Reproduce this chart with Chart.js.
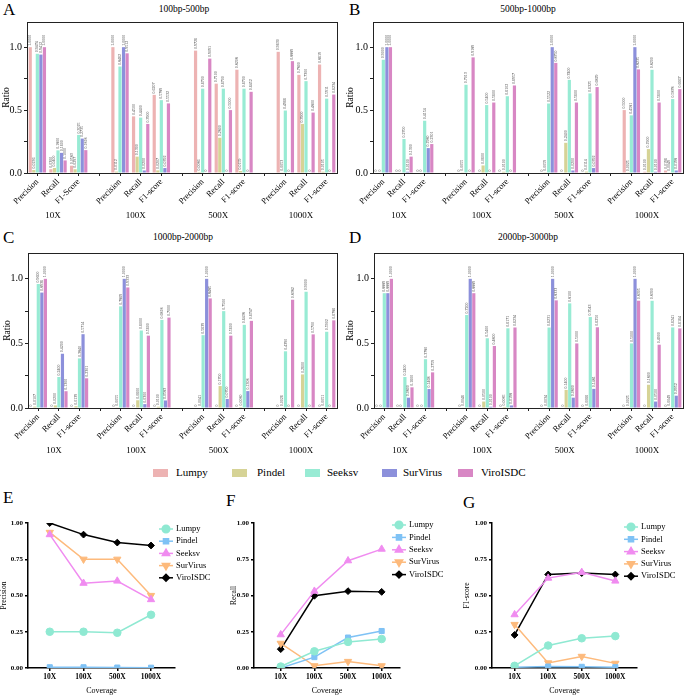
<!DOCTYPE html>
<html>
<head>
<meta charset="utf-8">
<script src="https://cdn.jsdelivr.net/npm/chart.js@4.4.0/dist/chart.umd.min.js"></script>
<style>
body { margin: 0; background: #fff; width: 685px; height: 696px; position: relative; overflow: hidden; }
canvas { position: absolute; }
.t { position: absolute; font-family: "Liberation Serif", "DejaVu Serif", "Times New Roman", serif; color: #000; white-space: nowrap; line-height: 1; }
.letter { font-size: 17px; }
.title { font-size: 9.5px; transform: translateX(-50%); }
.sw { position: absolute; width: 15px; height: 8px; }
.lg { font-size: 11px; }
</style>
</head>
<body>
<div class="t letter" style="left:3px;top:1px">A</div>
<div class="t letter" style="left:349px;top:1px">B</div>
<div class="t letter" style="left:3px;top:229px">C</div>
<div class="t letter" style="left:349px;top:229px">D</div>
<div class="t letter" style="left:3px;top:489px">E</div>
<div class="t letter" style="left:226px;top:492px">F</div>
<div class="t letter" style="left:463px;top:494px">G</div>

<div class="t title" style="left:184px;top:5px">100bp-500bp</div>
<div class="t title" style="left:528px;top:5px">500bp-1000bp</div>
<div class="t title" style="left:183px;top:233px">1000bp-2000bp</div>
<div class="t title" style="left:528px;top:233px">2000bp-3000bp</div>

<canvas id="chartA" width="342" height="212" style="left:0;top:14px"></canvas>
<canvas id="chartB" width="343" height="212" style="left:342px;top:14px"></canvas>
<canvas id="chartC" width="342" height="222" style="left:0;top:240px"></canvas>
<canvas id="chartD" width="343" height="222" style="left:342px;top:240px"></canvas>

<div id="legend"></div>

<canvas id="chartE" width="228" height="191" style="left:0;top:505px"></canvas>
<canvas id="chartF" width="228" height="191" style="left:228px;top:505px"></canvas>
<canvas id="chartG" width="229" height="191" style="left:456px;top:505px"></canvas>

<script>
const tools = ['Lumpy', 'Pindel', 'Seeksv', 'SurVirus', 'ViroISDC'];
const coverages = ['10X', '100X', '500X', '1000X'];
const metrics = ['Precision', 'Recall', 'F1-score'];
const metricsA10 = ['Precision', 'Recall', 'F1-Score'];

// bar panels: per tool, 12 values = (P, R, F1) x 10X, 100X, 500X, 1000X
const A_Lumpy    = [1.0000, 0.0300, 0.0583, 1.0000, 0.4500, 0.6207, 0.9726, 0.7100, 0.8208, 0.9630, 0.7800, 0.8619];
const A_Pindel   = [0.0236, 0.0400, 0.0297, 0.0112, 0.1300, 0.0207, 0.0086, 0.2800, 0.0159, 0.0053, 0.3900, 0.0105];
const A_Seeksv   = [0.9474, 0.1800, 0.3025, 0.8462, 0.4400, 0.5789, 0.6700, 0.6700, 0.6700, 0.4966, 0.7300, 0.5911];
const A_SurVirus = [0.9412, 0.1600, 0.2735, 1.0000, 0.0200, 0.0392, 0, 0, 0, 0, 0, 0];
const A_ViroISDC = [1.0000, 0.1000, 0.1818, 0.9512, 0.3900, 0.5532, 0.9091, 0.5000, 0.6452, 0.8889, 0.4800, 0.6234];

const B_Lumpy    = [0, 0, 0, 0, 0, 0, 0, 0, 0, 0.5000, 0.0100, 0.0196];
const B_Pindel   = [0, 0, 0, 0.0055, 0.0600, 0.0100, 0.0059, 0.2400, 0.0114, 0.0025, 0.1900, 0.0049];
const B_Seeksv   = [0.9000, 0.2700, 0.4154, 0.7013, 0.5400, 0.6102, 0.5522, 0.7400, 0.6325, 0.4581, 0.8200, 0.5878];
const B_SurVirus = [1.0000, 0.0100, 0.1980, 0, 0, 0, 1.0000, 0.0200, 0.0392, 1.0000, 0.0100, 0.0198];
const B_ViroISDC = [1.0000, 0.1300, 0.2301, 0.9189, 0.5600, 0.6957, 0.8750, 0.5600, 0.6829, 0.8235, 0.5600, 0.6667];

const C_Lumpy    = [0, 0, 0, 0, 0, 0, 0, 0, 0, 0, 0, 0];
const C_Pindel   = [0.0107, 0.0200, 0.0139, 0.0055, 0.0600, 0.0100, 0.0041, 0.1700, 0.0080, 0.0026, 0.2600, 0.0051];
const C_Seeksv   = [0.9600, 0.2400, 0.3840, 0.7869, 0.6000, 0.6818, 0.5639, 0.7500, 0.6438, 0.4390, 0.9000, 0.5902];
const C_SurVirus = [0.8936, 0.4200, 0.5714, 1.0000, 0.0300, 0.0583, 1.0000, 0.0700, 0.1308, 0, 0, 0];
const C_ViroISDC = [1.0000, 0.1300, 0.2301, 0.9333, 0.5600, 0.7000, 0.8485, 0.5600, 0.6747, 0.8382, 0.5700, 0.6786];

const D_Lumpy    = [0, 0, 0, 0, 0, 0, 0, 0, 0, 0, 0, 0];
const D_Pindel   = [0, 0, 0, 0.0046, 0.0500, 0.0085, 0.0034, 0.1400, 0.0066, 0.0025, 0.1800, 0.0049];
const D_Seeksv   = [0.8889, 0.2400, 0.3780, 0.7200, 0.5400, 0.6171, 0.6231, 0.8100, 0.7043, 0.5000, 0.8300, 0.6241];
const D_SurVirus = [0.8889, 0.0800, 0.1468, 1.0000, 0.0100, 0.0198, 1.0000, 0.0800, 0.1481, 1.0000, 0.0500, 0.0952];
const D_ViroISDC = [1.0000, 0.1600, 0.2759, 0.8889, 0.4800, 0.6234, 0.8333, 0.5000, 0.6250, 0.8305, 0.4900, 0.6164];

// line panels: per tool, values at 10X, 100X, 500X, 1000X
const precLumpy = [0.250, 0.250, 0.243, 0.367];
const precPindel = [0.005, 0.005, 0.003, 0.002];
const precSeeksv = [0.920, 0.585, 0.600, 0.472];
const precSurVirus = [0.935, 0.750, 0.750, 0.500];
const precViroISDC = [1.000, 0.920, 0.865, 0.845];

const recLumpy = [0.010, 0.115, 0.180, 0.200];
const recPindel = [0.000, 0.075, 0.210, 0.255];
const recSeeksv = [0.230, 0.530, 0.740, 0.820];
const recSurVirus = [0.170, 0.015, 0.045, 0.015];
const recViroISDC = [0.130, 0.498, 0.530, 0.525];

const f1Lumpy = [0.015, 0.155, 0.205, 0.220];
const f1Pindel = [0.005, 0.010, 0.008, 0.006];
const f1Seeksv = [0.368, 0.620, 0.660, 0.600];
const f1SurVirus = [0.300, 0.035, 0.080, 0.032];
const f1ViroISDC = [0.228, 0.645, 0.655, 0.645];

const SERIF = '"Liberation Serif", "DejaVu Serif", "Times New Roman", serif';
const barColors = ['#EDB3B3', '#D6D396', '#98EBD4', '#8C90DB', '#D887C4'];
const lineColors = ['#8FE9D2', '#7FC2F5', '#F08CF0', '#FDBA7C', '#000000'];
const pointStyles = ['circle', 'rect', 'triangle', 'triangle', 'rectRot'];
const pointRot = [0, 0, 0, 180, 0];
const pointRad = [3.8, 3.6, 4.2, 4.2, 3.4];

// legend for the bar panels
const legendDiv = document.getElementById('legend');
const swX = [153, 232, 305, 382, 458];
const txtX = [176, 257, 327, 403, 481];
tools.forEach((t, i) => {
  const sw = document.createElement('div');
  sw.className = 'sw';
  sw.style.left = swX[i] + 'px';
  sw.style.top = '469px';
  sw.style.background = barColors[i];
  legendDiv.appendChild(sw);
  const lb = document.createElement('div');
  lb.className = 't lg';
  lb.style.left = txtX[i] + 'px';
  lb.style.top = '467px';
  lb.textContent = t;
  legendDiv.appendChild(lb);
});

function spread(vals) {
  // 12 values -> 15 slots, empty slot between coverage groups
  const out = [];
  vals.forEach((v, i) => {
    out.push(v);
    if (i % 3 === 2 && i < vals.length - 1) out.push(null);
  });
  return out;
}

function barLabels(firstGroup) {
  const out = [];
  coverages.forEach((c, g) => {
    (g === 0 ? firstGroup : metrics).forEach(m => out.push(m));
    if (g < coverages.length - 1) out.push('');
  });
  return out;
}

const frame = {
  id: 'frame',
  afterDraw(chart) {
    const a = chart.chartArea, ctx = chart.ctx;
    ctx.save();
    ctx.strokeStyle = '#222';
    ctx.lineWidth = 1;
    ctx.strokeRect(Math.round(a.left) + 0.5, Math.round(a.top) + 0.5, Math.round(a.right - a.left), Math.round(a.bottom - a.top));
    ctx.restore();
  }
};

const valueLabels = {
  id: 'valueLabels',
  afterDatasetsDraw(chart) {
    const ctx = chart.ctx;
    ctx.save();
    ctx.font = '4px ' + SERIF;
    ctx.fillStyle = '#444';
    ctx.textAlign = 'left';
    ctx.textBaseline = 'middle';
    chart.data.datasets.forEach((ds, di) => {
      chart.getDatasetMeta(di).data.forEach((el, i) => {
        const v = ds.data[i];
        if (v === null || v === undefined) return;
        ctx.save();
        ctx.translate(el.x, el.y - 1.5);
        ctx.rotate(-Math.PI / 2);
        ctx.fillText(v === 0 ? '0' : v.toFixed(4), 0, 0);
        ctx.restore();
      });
    });
    ctx.restore();
  }
};

const groupLabels = {
  id: 'groupLabels',
  afterDraw(chart) {
    const ctx = chart.ctx, x = chart.scales.x;
    ctx.save();
    ctx.font = '9px ' + SERIF;
    ctx.fillStyle = '#000';
    ctx.textAlign = 'center';
    ctx.textBaseline = 'middle';
    coverages.forEach((c, g) => {
      ctx.fillText(c, x.getPixelForTick(g * 4 + 1) - 5, chart.chartArea.bottom + 43);
    });
    ctx.restore();
  }
};

function makeBar(id, series, yw, pad, xh, firstLabels, titlePad) {
  new Chart(document.getElementById(id), {
    type: 'bar',
    data: {
      labels: barLabels(firstLabels),
      datasets: tools.map((t, k) => ({
        label: t,
        data: spread(series[k]),
        backgroundColor: barColors[k],
        borderWidth: 0,
        barPercentage: 0.9,
        categoryPercentage: 0.86
      }))
    },
    options: {
      responsive: false,
      animation: false,
      layout: { padding: pad },
      plugins: { legend: { display: false }, tooltip: { enabled: false } },
      scales: {
        x: {
          grid: { display: true, drawOnChartArea: false, drawTicks: true, tickLength: 3, color: '#222', offset: false },
          border: { display: false },
          ticks: { autoSkip: false, minRotation: 45, maxRotation: 45, padding: 1, color: '#000', font: { family: SERIF, size: 8.5 } },
          afterFit: s => { s.height = xh; }
        },
        y: {
          min: 0,
          max: 1.2,
          afterBuildTicks: s => { s.ticks = [0, 0.25, 0.5, 0.75, 1].map(v => ({ value: v })); },
          grid: { drawOnChartArea: false, tickLength: 3, color: '#222' },
          border: { display: false },
          ticks: {
            padding: 2, color: '#000', font: { family: SERIF, size: 10 },
            callback: v => (Math.abs(v * 2 - Math.round(v * 2)) < 1e-9 ? v.toFixed(1) : '')
          },
          title: { display: true, text: 'Ratio', color: '#000', font: { family: SERIF, size: 9.5 }, padding: { top: titlePad, bottom: 0 } },
          afterFit: s => { s.width = yw; }
        }
      }
    },
    plugins: [frame, valueLabels, groupLabels]
  });
}

makeBar('chartA', [A_Lumpy, A_Pindel, A_Seeksv, A_SurVirus, A_ViroISDC], 27, { top: 5, right: 5 }, 53, metricsA10, 1);
makeBar('chartB', [B_Lumpy, B_Pindel, B_Seeksv, B_SurVirus, B_ViroISDC], 31, { top: 5, right: 2 }, 53, metrics, 3);
makeBar('chartC', [C_Lumpy, C_Pindel, C_Seeksv, C_SurVirus, C_ViroISDC], 28, { top: 13, right: 5 }, 54, metrics, 2);
makeBar('chartD', [D_Lumpy, D_Pindel, D_Seeksv, D_SurVirus, D_ViroISDC], 32, { top: 13, right: 2 }, 54, metrics, 3);

const lineLegend = {
  id: 'lineLegend',
  afterDraw(chart, args, opts) {
    const ctx = chart.ctx;
    ctx.save();
    chart.data.datasets.forEach((ds, i) => {
      const y = opts.y + i * opts.dy;
      ctx.strokeStyle = ds.borderColor;
      ctx.fillStyle = ds.borderColor;
      ctx.lineWidth = 1.5;
      ctx.beginPath();
      ctx.moveTo(opts.x - 7, y);
      ctx.lineTo(opts.x + 7, y);
      ctx.stroke();
      Chart.helpers.drawPoint(ctx, { pointStyle: ds.pointStyle, rotation: ds.pointRotation, radius: ds.pointRadius, borderWidth: 1 }, opts.x, y);
      ctx.fillStyle = '#000';
      ctx.font = '8.5px ' + SERIF;
      ctx.textAlign = 'left';
      ctx.textBaseline = 'middle';
      ctx.fillText(ds.label, opts.x + 10, y);
    });
    ctx.restore();
  }
};

function makeLine(id, yTitle, series, xmin, xmax, yw, padRight, leg, titlePad) {
  new Chart(document.getElementById(id), {
    type: 'line',
    data: {
      datasets: tools.map((t, k) => ({
        label: t,
        data: series[k].map((v, i) => ({ x: i, y: v })),
        borderColor: lineColors[k],
        backgroundColor: lineColors[k],
        pointBackgroundColor: lineColors[k],
        pointBorderColor: lineColors[k],
        borderWidth: 1.5,
        pointStyle: pointStyles[k],
        pointRotation: pointRot[k],
        pointRadius: pointRad[k],
        pointBorderWidth: 1,
        tension: 0
      }))
    },
    options: {
      responsive: false,
      animation: false,
      layout: { padding: { top: 18, right: padRight } },
      plugins: { legend: { display: false }, tooltip: { enabled: false }, lineLegend: leg },
      scales: {
        x: {
          type: 'linear',
          min: xmin,
          max: xmax,
          afterBuildTicks: s => { s.ticks = [0, 1, 2, 3].map(v => ({ value: v })); },
          grid: { drawOnChartArea: false, tickLength: 3, color: '#000', lineWidth: 1.5 },
          border: { color: '#000', width: 1.5 },
          ticks: { padding: 2, color: '#000', font: { family: SERIF, size: 7.5, weight: 'bold' }, callback: v => coverages[v] },
          title: { display: true, text: 'Coverage', color: '#000', font: { family: SERIF, size: 8 }, padding: { top: 3, bottom: 0 } },
          afterFit: s => { s.height = 28; }
        },
        y: {
          min: 0,
          max: 1,
          ticks: { stepSize: 0.25, padding: 2, color: '#000', font: { family: SERIF, size: 7, weight: 'bold' }, callback: v => v.toFixed(2) },
          grid: { drawOnChartArea: false, tickLength: 3, color: '#000', lineWidth: 1.5 },
          border: { color: '#000', width: 1.5 },
          title: { display: true, text: yTitle, color: '#000', font: { family: SERIF, size: 7.5 }, padding: { top: titlePad, bottom: 0 } },
          afterFit: s => { s.width = yw; }
        }
      }
    },
    plugins: [lineLegend]
  });
}

makeLine('chartE', 'Precision', [precLumpy, precPindel, precSeeksv, precSurVirus, precViroISDC],
  -0.645, 3.71, 28, 53, { x: 166, y: 24, dy: 12.2 }, 0);
makeLine('chartF', 'Recall', [recLumpy, recPindel, recSeeksv, recSurVirus, recViroISDC],
  -0.795, 3.545, 26, 56, { x: 171, y: 20, dy: 12.4 }, 2);
makeLine('chartG', 'F1-score', [f1Lumpy, f1Pindel, f1Seeksv, f1SurVirus, f1ViroISDC],
  -0.673, 3.646, 36, 48, { x: 175, y: 22, dy: 12.3 }, 7);
</script>
</body>
</html>
